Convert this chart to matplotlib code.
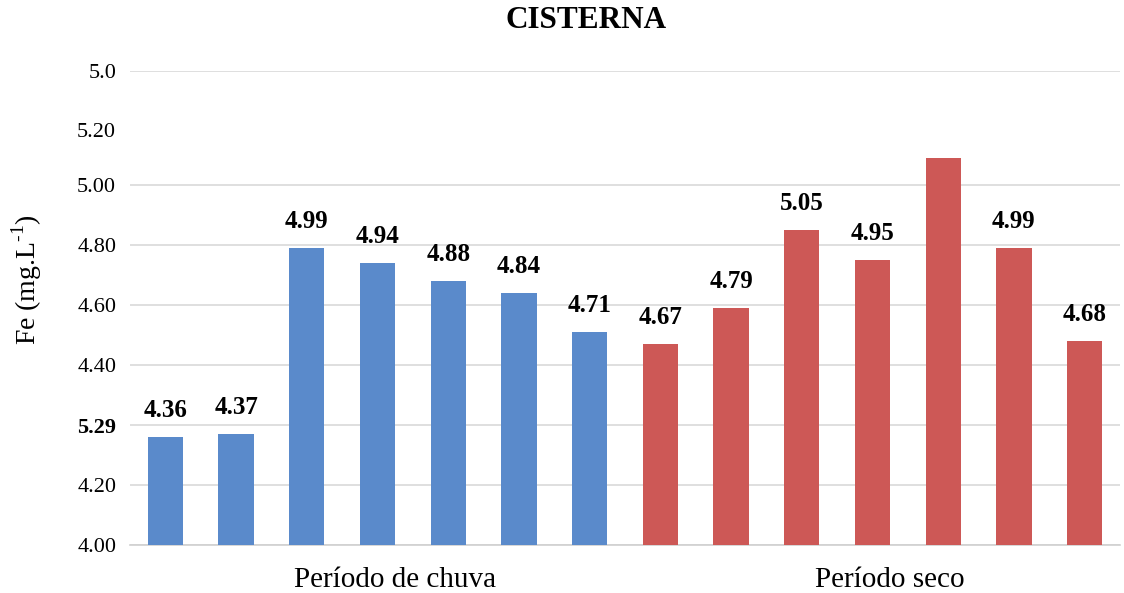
import numpy as np
import matplotlib.pyplot as plt

plt.rcParams['font.family'] = ['Liberation Serif', 'DejaVu Serif']
plt.rcParams['mathtext.fontset'] = 'custom'
plt.rcParams['mathtext.rm'] = 'Liberation Serif'

# Fe concentration per sample, rainy and dry season
chuva = [4.36, 4.37, 4.99, 4.94, 4.88, 4.84, 4.71]
seco = [4.67, 4.79, 5.05, 4.95, 5.29, 4.99, 4.68]
periodos = ["Período de chuva", "Período seco"]

# y tick positions and the labels printed on them
ytick_pos = [4.0, 4.2, 4.4, 4.6, 4.8, 5.0, 5.2, 5.383, 5.58]
ytick_labels = ["4.00", "4.20", "5.29", "4.40", "4.60", "4.80", "5.00", "5.20", "5.0"]

blue = "#5A8ACB"
red = "#CD5856"

fig = plt.figure(figsize=(11.24, 5.93), dpi=100)
ax = fig.add_axes([0.1157, 0.081, 0.8807, 0.799])

values = chuva + seco
colors = [blue] * len(chuva) + [red] * len(seco)
x = np.arange(len(values))
bars = ax.bar(x, values, width=0.5, color=colors, zorder=3)

# value labels above the bars (the tallest one has its label on the axis)
for b, v in zip(bars, values):
    if v == max(values):
        continue
    ax.annotate(f"{v:.2f}", (b.get_x() + b.get_width() / 2, v),
                xytext=(0, 11), textcoords="offset points",
                ha="center", va="bottom", fontsize=18, fontweight="bold")

ax.set_xlim(-0.5, len(values) - 0.5)
ax.set_ylim(4.0, 5.58)
ax.set_yticks(ytick_pos)
ax.set_yticklabels(ytick_labels)
for lab in ax.get_yticklabels():
    if lab.get_text() == "5.29":
        lab.set_fontweight("bold")
ax.tick_params(axis="y", length=0, labelsize=16, pad=10)

# period names under each group of seven bars
ax.set_xticks([3.25, 10.25])
ax.set_xticklabels(periodos)
ax.tick_params(axis="x", length=0, labelsize=21, pad=16)

ax.grid(axis="y", color="#D9D9D9", linewidth=1.2, zorder=0)
ax.set_axisbelow(True)
# no gridline on the 5.20 level
ax.yaxis.get_gridlines()[7].set_visible(False)

for s in ["top", "right", "left"]:
    ax.spines[s].set_visible(False)
ax.spines["bottom"].set_color("#D0D0D0")
ax.spines["bottom"].set_linewidth(1.2)

fig.text(0.024, 1 - 280 / 593, "Fe (mg.L$^{\\text{-1}}$)", rotation=90,
         ha="center", va="center", fontsize=20)
fig.text(0.521, 0.966, "CISTERNA", ha="center", va="center",
         fontsize=22.5, fontweight="bold")

fig.savefig("out.png", dpi=100)
